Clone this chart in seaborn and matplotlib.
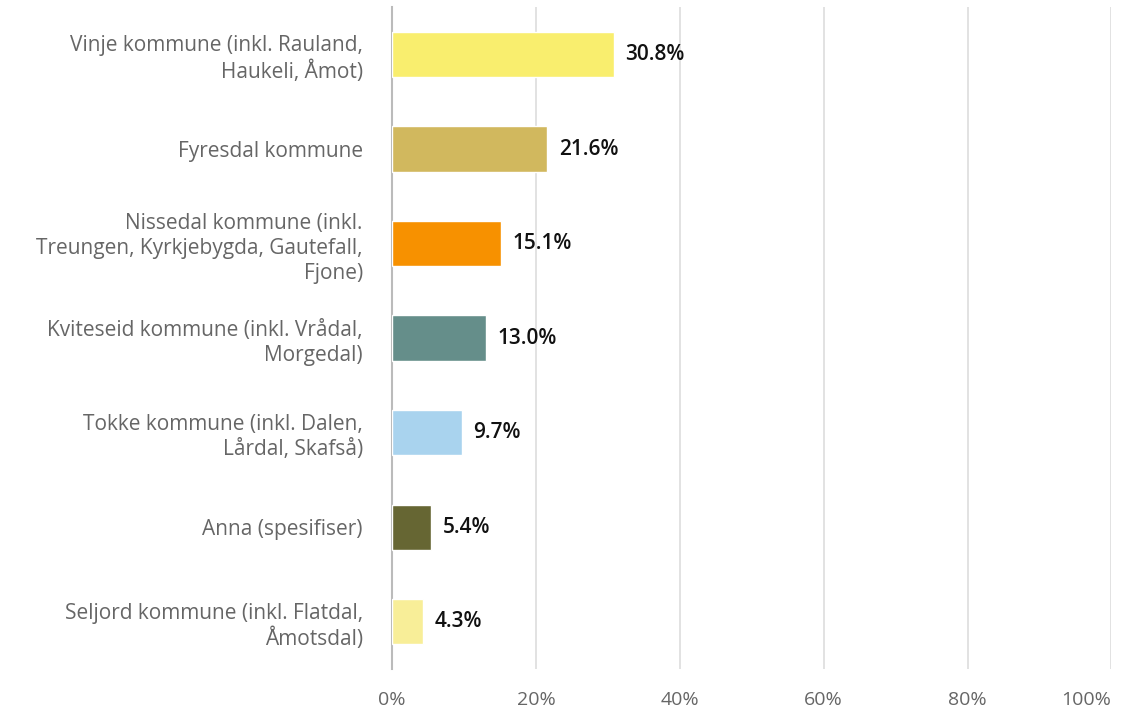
import matplotlib
matplotlib.use("Agg")
import matplotlib.pyplot as plt
import seaborn as sns
import pandas as pd

# Chart data
categories = [
    "Vinje kommune (inkl. Rauland,\nHaukeli, Åmot)",
    "Fyresdal kommune",
    "Nissedal kommune (inkl.\nTreungen, Kyrkjebygda, Gautefall,\nFjone)",
    "Kviteseid kommune (inkl. Vrådal,\nMorgedal)",
    "Tokke kommune (inkl. Dalen,\nLårdal, Skafså)",
    "Anna (spesifiser)",
    "Seljord kommune (inkl. Flatdal,\nÅmotsdal)",
]
values = [30.8, 21.6, 15.1, 13.0, 9.7, 5.4, 4.3]
colors = ["#F9EE6E", "#D1B85E", "#F79100", "#658E8A", "#A9D3EE", "#666633", "#F8EE98"]
x_ticks = [0, 20, 40, 60, 80, 100]
x_tick_labels = ["0%", "20%", "40%", "60%", "80%", "100%"]

df = pd.DataFrame({"category": categories, "value": values})

sns.set_style("white")
plt.rcParams["font.family"] = ["Open Sans", "DejaVu Sans"]

fig = plt.figure(figsize=(11.33, 7.10), dpi=100)
ax = fig.add_axes([0.346, 0.0577, 0.635, 0.932])

sns.barplot(data=df, x="value", y="category", hue="category", palette=colors,
            saturation=1, legend=False, width=0.48, ax=ax, zorder=3)

# Value labels
for i, v in enumerate(values):
    ax.text(v + 1.6, i, f"{v:.1f}%", va="center", ha="left",
            fontsize=15, fontweight="semibold", color="#111111")

ax.set_xlim(0, 100)
ax.set_xticks(x_ticks)
ax.set_xticklabels(x_tick_labels)
ax.xaxis.grid(True, color="#DDDDDD", linewidth=1.2, zorder=0)
ax.set_xlabel("")
ax.set_ylabel("")
ax.tick_params(axis="x", labelsize=14, labelcolor="#666666", length=0, pad=16)
ax.tick_params(axis="y", labelsize=15, labelcolor="#666666", length=0, pad=21)
for lbl in ax.get_yticklabels():
    lbl.set_multialignment("right")
    lbl.set_linespacing(1.25)
ax.get_xticklabels()[-1].set_horizontalalignment("right")

for s in ["top", "right", "bottom"]:
    ax.spines[s].set_visible(False)
ax.spines["left"].set_color("#BBBBBB")
ax.spines["left"].set_linewidth(1.5)

fig.savefig("out.png", dpi=100)
